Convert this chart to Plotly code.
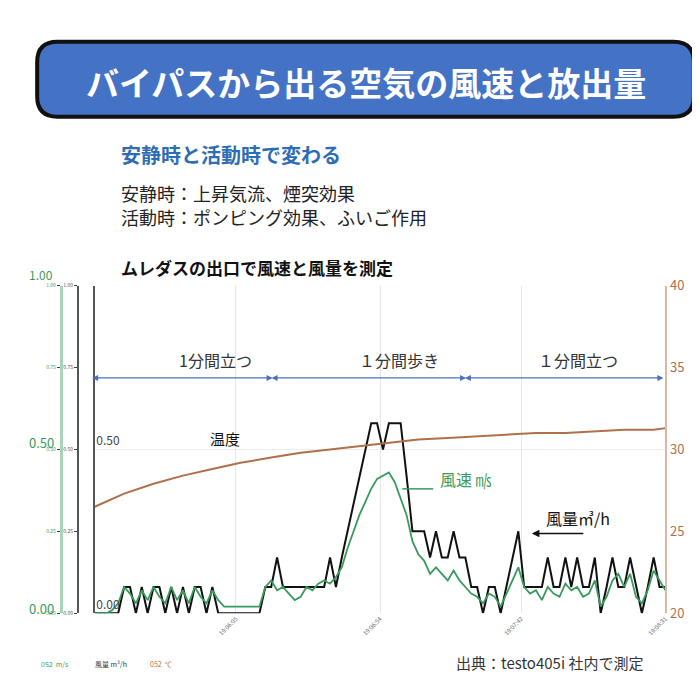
import numpy as np
import plotly.graph_objects as go

# 時間（秒、19:05:17 起点）
t = list(range(0, 196, 2))
# 風量 m³/h（黒）
flow = ([0, 0, 0, 0, 0]
        + [0.08, 0.08, 0, 0.08, 0, 0.08, 0.08, 0, 0.08, 0, 0.08, 0, 0.08, 0.08, 0, 0.08, 0]
        + [0, 0, 0, 0, 0, 0, 0]
        + [0.08, 0.08, 0.17, 0.08, 0.08, 0.08, 0.08, 0.08, 0.08, 0.08, 0.08, 0.17, 0.08]
        + [0.17, 0.25, 0.33, 0.42, 0.5, 0.58, 0.58, 0.5]
        + [0.58, 0.58, 0.58, 0.42]
        + [0.25, 0.25, 0.25, 0.17, 0.25, 0.17, 0.17, 0.25, 0.17]
        + [0.17, 0.08, 0.08, 0, 0.08, 0.08, 0, 0.08, 0.17, 0.25]
        + [0.08, 0.08, 0.08, 0.08, 0.17, 0.08, 0.08, 0.17, 0.08, 0.17, 0.08, 0.08, 0.17,
           0, 0.08, 0.17, 0.08, 0.08, 0.17, 0.08, 0, 0.08, 0.17, 0.08, 0.08])
# 風速 m/s（緑）
speed = ([0, 0, 0, 0.01, 0.03]
         + [0.08, 0.06, 0.03, 0.07, 0.04, 0.08, 0.05, 0.03, 0.08, 0.04, 0.07, 0.03, 0.08, 0.05, 0.03, 0.07, 0.04]
         + [0.02, 0.02, 0.02, 0.02, 0.02, 0.02, 0.02]
         + [0.08, 0.1, 0.07, 0.08, 0.06, 0.04, 0.05, 0.08, 0.07, 0.09, 0.1, 0.09, 0.11]
         + [0.14, 0.2, 0.25, 0.3, 0.34, 0.38, 0.41, 0.42]
         + [0.43, 0.4, 0.35, 0.3]
         + [0.22, 0.18, 0.16, 0.12, 0.14, 0.12, 0.1, 0.13, 0.1]
         + [0.08, 0.06, 0.05, 0.03, 0.06, 0.05, 0.02, 0.06, 0.1, 0.14]
         + [0.08, 0.06, 0.07, 0.04, 0.08, 0.06, 0.05, 0.09, 0.07, 0.08, 0.05, 0.06, 0.1,
            0.02, 0.05, 0.1, 0.12, 0.08, 0.12, 0.05, 0.03, 0.07, 0.13, 0.1, 0.07])
# 温度 ℃（茶）
t_temp = [0, 10, 20, 30, 40, 50, 60, 70, 80, 90, 100, 110, 120, 130, 140, 150, 160, 170, 180, 190, 194]
temp = [26.5, 27.3, 27.9, 28.4, 28.8, 29.2, 29.5, 29.8, 30.0, 30.2, 30.4, 30.6, 30.7, 30.8,
        30.9, 31.0, 31.0, 31.1, 31.2, 31.2, 31.3]
tick_t = [0, 48, 97, 145, 194]
tick_lbl = ["19:05:17", "19:06:05", "19:06:54", "19:07:42", "19:08:31"]

GREEN = "#3a9a5c"
BROWN = "#b0704a"
DOM_X = [0.1, 0.943]
DOM_Y = [0.126, 0.607]

fig = go.Figure()
fig.add_trace(go.Scatter(x=t_temp, y=temp, yaxis="y2", mode="lines",
                         line=dict(color=BROWN, width=2)))
fig.add_trace(go.Scatter(x=t, y=flow, mode="lines", line=dict(color="#111", width=2)))
fig.add_trace(go.Scatter(x=t, y=speed, mode="lines", line=dict(color=GREEN, width=1.8)))

small = dict(size=5, color="#555")
fig.update_layout(
    width=700, height=700, margin=dict(l=0, r=0, t=0, b=0),
    paper_bgcolor="white", plot_bgcolor="white", showlegend=False,
    font=dict(family="Noto Sans CJK JP"),
    xaxis=dict(domain=DOM_X, range=[0, 194], tickvals=tick_t, ticktext=tick_lbl,
               tickangle=-45, tickfont=dict(size=6, color="#666"), showgrid=True,
               gridcolor="#e6e6e6", zeroline=False, showline=False),
    yaxis=dict(domain=DOM_Y, range=[0, 1], tickvals=[0, 0.5, 1], ticktext=["0.00", "0.50", "1.00"],
               ticks="", ticklabelposition="inside top", tickfont=dict(size=12, color="#444"),
               showgrid=True, gridcolor="#eeeeee", zeroline=False,
               showline=True, linecolor="#555", linewidth=2),
    yaxis2=dict(domain=DOM_Y, range=[20, 40], overlaying="y", side="right", anchor="x",
                tickvals=[20, 25, 30, 35, 40], tickfont=dict(size=13, color=BROWN),
                showgrid=False, showline=True, linecolor="#d9b8a8", linewidth=2, zeroline=False),
    yaxis3=dict(domain=DOM_Y, range=[0, 1], overlaying="y", anchor="free", position=0.075,
                tickvals=[0, 0.25, 0.5, 0.75, 1], ticktext=["0.00", "0.25", "0.50", "0.75", "1.00"],
                ticks="outside", ticklen=3, tickfont=small, showgrid=False,
                showline=True, linecolor="#555", linewidth=1.5, zeroline=False),
    yaxis4=dict(domain=DOM_Y, range=[0, 1], overlaying="y", anchor="free", position=0.05,
                tickvals=[0, 0.25, 0.5, 0.75, 1], ticktext=["0.00", "0.25", "0.50", "0.75", "1.00"],
                ticks="outside", ticklen=3, tickfont=dict(size=5, color=GREEN), showgrid=False,
                showline=True, linecolor="#a8d5b8", linewidth=3, zeroline=False),
)
# dummy traces so the extra axes render
fig.add_trace(go.Scatter(x=[0], y=[0], yaxis="y3", mode="markers", marker=dict(opacity=0)))
fig.add_trace(go.Scatter(x=[0], y=[0], yaxis="y4", mode="markers", marker=dict(opacity=0)))

# ヘッダー（角丸ボックス）
r = 0.03
x0, x1, y0, y1 = 0.015, 0.985, 0.855, 0.965
fig.add_shape(type="path", xref="paper", yref="paper",
              path=(f"M{x0+r},{y0} L{x1-r},{y0} Q{x1},{y0} {x1},{y0+r} L{x1},{y1-r} Q{x1},{y1} {x1-r},{y1} "
                    f"L{x0+r},{y1} Q{x0},{y1} {x0},{y1-r} L{x0},{y0+r} Q{x0},{y0} {x0+r},{y0} Z"),
              fillcolor="#4472C4", line=dict(color="#111", width=4))

def txt(x, y, s, size, color="#222", bold=False, anchor="left", **kw):
    fig.add_annotation(x=x / 700, y=1 - y / 700, xref="paper", yref="paper", text=f"<b>{s}</b>" if bold else s,
                       showarrow=False, xanchor=anchor, yanchor="middle",
                       font=dict(size=size, color=color), **kw)

txt(350, 66, "バイパスから出る空気の風速と放出量", 33, "white", True, "center")
txt(95, 140, "安静時と活動時で変わる", 20, "#2e6db4", True)
txt(95, 180, "安静時：上昇気流、煙突効果", 18)
txt(95, 205, "活動時：ポンピング効果、ふいご作用", 18)
txt(95, 256, "ムレダスの出口で風速と風量を測定", 17, "#111", True)
txt(0, 264, "1.00", 12, GREEN)
txt(0, 436, "0.50", 13, GREEN)
txt(0, 607, "0.00", 13, GREEN)
txt(195, 352, "1分間立つ", 16, "#333", anchor="center")
txt(385, 352, "１分間歩き", 16, "#333", anchor="center")
txt(570, 352, "１分間立つ", 16, "#333", anchor="center")
txt(205, 432, "温度", 15, "#111", anchor="center")
txt(425, 474, "風速 ㎧", 16, GREEN)
txt(535, 514, "風量㎥/h", 16, "#111")
txt(540, 662, "出典：testo405i 社内で測定", 15, "#333", anchor="center")
txt(12, 664, "052  m/s", 7, GREEN)
txt(68, 664, "風量 m³/h", 7, "#333")
txt(125, 664, "052  ℃", 7, BROWN)

# 区間矢印（ax はピクセルオフセット）
for a, b in [(72, 254), (258, 454), (458, 658)]:
    fig.add_annotation(x=b / 700, y=1 - 370 / 700, ax=a - b, ay=0,
                       xref="paper", yref="paper", text="",
                       showarrow=True, arrowside="end+start", arrowhead=2, startarrowhead=2,
                       arrowwidth=1.2, arrowcolor="#4a72b8")
fig.add_shape(type="line", xref="paper", yref="paper", x0=388 / 700, y0=1 - 484 / 700,
              x1=420 / 700, y1=1 - 484 / 700, line=dict(color=GREEN, width=1.5))
fig.add_annotation(x=522 / 700, y=1 - 530 / 700, ax=53, ay=0,
                   xref="paper", yref="paper", text="",
                   showarrow=True, arrowhead=2, arrowwidth=1.5, arrowcolor="#111")

fig.write_html("out.html")
